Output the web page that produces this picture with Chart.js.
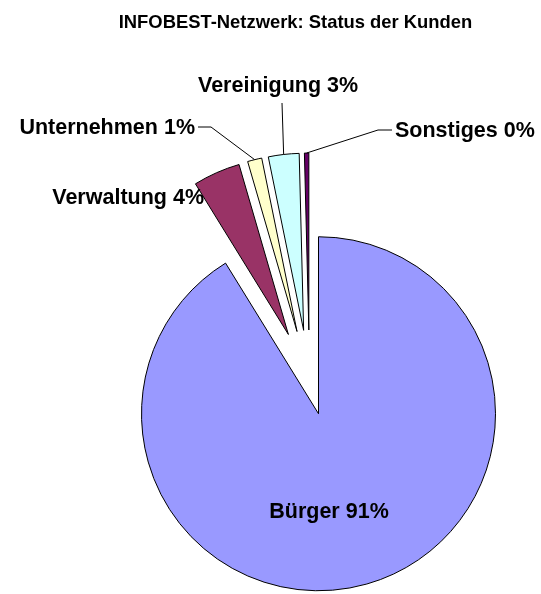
<!DOCTYPE html>
<html>
<head>
<meta charset="utf-8">
<title>INFOBEST-Netzwerk: Status der Kunden</title>
<script src="https://cdn.jsdelivr.net/npm/chart.js@4.4.0/dist/chart.umd.min.js"></script>
<style>
  html, body { margin: 0; padding: 0; background: #fff; }
  canvas { display: block; }
</style>
</head>
<body>
<canvas id="chart" width="541" height="594"></canvas>
<script>
const chartTitle = 'INFOBEST-Netzwerk: Status der Kunden';
const categories = ['Bürger', 'Verwaltung', 'Unternehmen', 'Vereinigung', 'Sonstiges'];
const shares = [91.2, 4.3, 1.3, 2.8, 0.4];
const colors = ['#9999FF', '#993366', '#FFFFCC', '#CCFFFF', '#660066'];

// how far each slice is pulled out of the pie (px)
const explode = [33, 52, 52, 52, 52];

// where the labels sit, with optional leader line points (from slice to text)
const labelLayout = [
  { x: 329, y: 518, align: 'center' },
  { x: 204, y: 204, align: 'right' },
  { x: 195, y: 134, align: 'right', line: [[211, 127], [198, 127]] },
  { x: 198, y: 92, align: 'left', line: [[282, 103]] },
  { x: 395, y: 137, align: 'left', line: [[378, 130], [392, 130]] }
];

const FONT = '"Liberation Sans", Arial, sans-serif';

const explodePlugin = {
  id: 'explode',
  afterUpdate(chart) {
    chart.getDatasetMeta(0).data.forEach((arc, i) => {
      const mid = (arc.startAngle + arc.endAngle) / 2;
      arc.x += Math.cos(mid) * explode[i];
      arc.y += Math.sin(mid) * explode[i];
    });
  }
};

const labelPlugin = {
  id: 'sliceLabels',
  afterDatasetsDraw(chart) {
    const ctx = chart.ctx;
    const total = shares.reduce((a, b) => a + b, 0);
    ctx.save();
    ctx.fillStyle = '#000';
    ctx.strokeStyle = '#000';
    ctx.lineWidth = 1;
    ctx.textBaseline = 'alphabetic';
    ctx.font = 'bold 21.5px ' + FONT;
    chart.getDatasetMeta(0).data.forEach((arc, i) => {
      const lay = labelLayout[i];
      if (lay.line) {
        const mid = (arc.startAngle + arc.endAngle) / 2;
        ctx.beginPath();
        ctx.moveTo(arc.x + Math.cos(mid) * arc.outerRadius, arc.y + Math.sin(mid) * arc.outerRadius);
        lay.line.forEach(p => ctx.lineTo(p[0], p[1]));
        ctx.stroke();
      }
      ctx.textAlign = lay.align;
      ctx.fillText(categories[i] + ' ' + Math.round(shares[i] / total * 100) + '%', lay.x, lay.y);
    });

    ctx.font = 'bold 18.4px ' + FONT;
    ctx.textAlign = 'center';
    ctx.fillText(chartTitle, 295.5, 28);
    ctx.restore();
  }
};

new Chart(document.getElementById('chart'), {
  type: 'pie',
  data: {
    labels: categories,
    datasets: [{
      data: shares,
      backgroundColor: colors,
      borderColor: '#000',
      borderWidth: 1,
      borderJoinStyle: 'miter',
      clip: false
    }]
  },
  options: {
    responsive: false,
    animation: false,
    radius: 177,
    layout: { padding: { left: 80, right: 2, top: 174, bottom: 4 } },
    events: [],
    plugins: {
      legend: { display: false },
      title: { display: false },
      tooltip: { enabled: false }
    }
  },
  plugins: [explodePlugin, labelPlugin]
});
</script>
</body>
</html>
